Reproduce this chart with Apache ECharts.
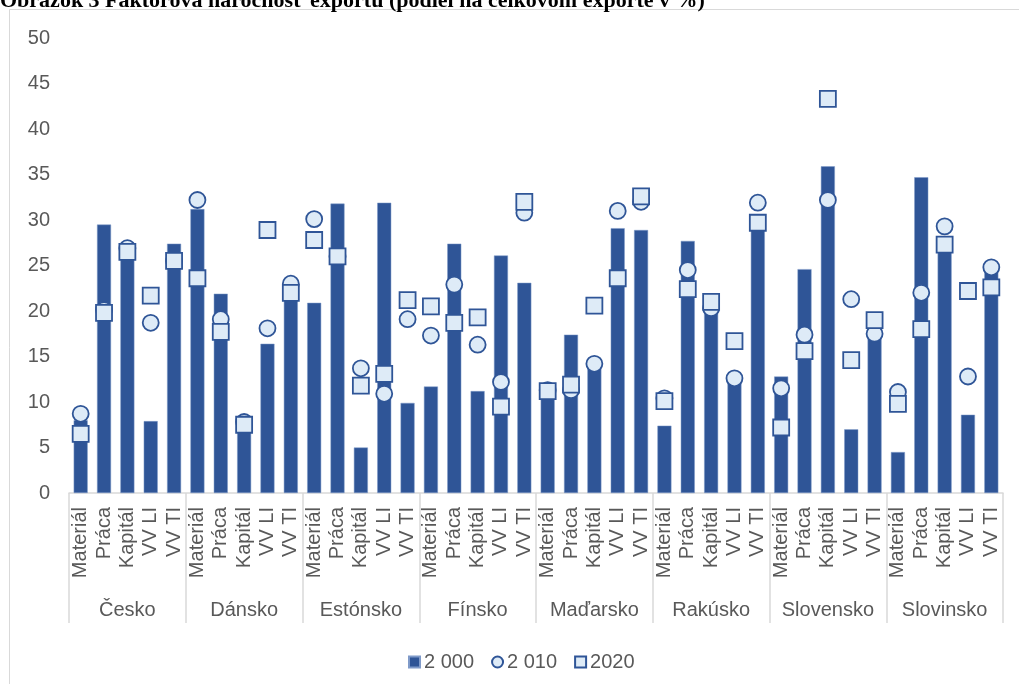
<!DOCTYPE html>
<html>
<head>
<meta charset="utf-8">
<script src="https://cdn.jsdelivr.net/npm/echarts@6/dist/echarts.min.js"></script>
<style>html,body{margin:0;padding:0;background:#fff}#c{width:1019px;height:684px}</style>
</head>
<body>
<div id="c"></div>
<script>
var countries = ['Česko','Dánsko','Estónsko','Fínsko','Maďarsko','Rakúsko','Slovensko','Slovinsko'];
var factors = ['Materiál','Práca','Kapitál','VV LI','VV TI'];
var yTicks = [0,5,10,15,20,25,30,35,40,45,50];
var v2000 = [
  8.0, 29.5, 26.8, 7.9, 27.4,
  31.2, 21.9, 7.6, 16.4, 21.5,
  20.9, 31.8, 5.0, 31.9, 9.9,
  11.7, 27.4, 11.2, 26.1, 23.1,
  10.9, 17.4, 13.9, 29.1, 28.9,
  7.4, 27.7, 19.8, 12.1, 30.0,
  12.8, 24.6, 35.9, 7.0, 17.2,
  4.5, 34.7, 26.8, 8.6, 24.5];
var v2010 = [
  8.7, 20.1, 26.9, 18.7, 25.5,
  32.2, 19.1, 7.8, 18.1, 23.0,
  30.1, 26.0, 13.7, 10.9, 19.1,
  17.3, 22.9, 16.3, 12.2, 30.8,
  11.3, 11.3, 14.2, 31.0, 32.0,
  10.4, 24.5, 20.3, 12.6, 31.9,
  11.5, 17.4, 32.2, 21.3, 17.5,
  11.1, 22.0, 29.3, 12.8, 24.8];
var v2020 = [
  6.5, 19.8, 26.5, 21.7, 25.5,
  23.6, 17.7, 7.5, 28.9, 22.0,
  27.8, 26.0, 11.8, 13.1, 21.2,
  20.5, 18.7, 19.3, 9.5, 32.0,
  11.2, 11.9, 20.6, 23.6, 32.6,
  10.1, 22.4, 21.0, 16.7, 29.7,
  7.2, 15.6, 43.3, 14.6, 19.0,
  9.8, 18.0, 27.3, 22.2, 22.6];
var seriesNames = ['2 000','2 010','2020'];
var titleText = 'Obrázok 3 Faktorová náročnosť exportu (podiel na celkovom exporte v %)';

var categories = [];
countries.forEach(function(c){ factors.forEach(function(f){ categories.push(f); }); });

var dark = '#2F5597', light = '#DEEBF7', txt = '#595959', gridc = '#D9D9D9';
var font = 'Liberation Sans';

var chart = echarts.init(document.getElementById('c'));
chart.setOption({
  animation: false,
  graphic: [
    { type: 'rect', shape: { x: 9.5, y: 9.5, width: 1030, height: 700 }, style: { fill: 'none', stroke: gridc, lineWidth: 1 }, z: -10 },
    { type: 'text', x: 0, y: 12.5, style: { text: titleText, font: 'bold 22px "Liberation Serif"', fill: '#000', verticalAlign: 'bottom' }, z: 10 }
  ],
  grid: { left: 69, right: 16, top: 38, bottom: 191 },
  legend: {
    data: [
      { name: seriesNames[0], icon: 'rect' },
      { name: seriesNames[1], icon: 'circle' },
      { name: seriesNames[2], icon: 'rect' }
    ],
    left: 403, top: 647, itemWidth: 11, itemHeight: 11, itemGap: 17,
    textStyle: { color: txt, fontSize: 20, fontFamily: font, padding: [0, 0, 0, -1] }
  },
  xAxis: [
    {
      type: 'category', data: categories, position: 'bottom',
      axisLine: { show: true, lineStyle: { color: gridc, width: 1.5 } },
      axisTick: { show: false },
      axisLabel: { interval: 0, rotate: 90, margin: 14, color: txt, fontSize: 20, fontFamily: font }
    },
    {
      type: 'category', data: countries, position: 'bottom',
      axisLine: { show: false },
      axisTick: { show: true, length: 130, lineStyle: { color: gridc, width: 1.5 } },
      axisLabel: { interval: 0, margin: 107, color: txt, fontSize: 20, fontFamily: font }
    }
  ],
  yAxis: {
    type: 'value', min: yTicks[0], max: yTicks[yTicks.length - 1], interval: yTicks[1] - yTicks[0],
    axisLine: { show: false }, axisTick: { show: false }, splitLine: { show: false },
    axisLabel: { color: txt, fontSize: 20, fontFamily: font, margin: 19 }
  },
  series: [
    { name: seriesNames[0], type: 'bar', data: v2000, barWidth: 14, xAxisIndex: 0,
      itemStyle: { color: dark, borderColor: '#7F9AC9', borderWidth: 0.5 }, z: 2 },
    { name: seriesNames[1], type: 'scatter', data: v2010, xAxisIndex: 0, symbol: 'circle', symbolSize: 16,
      itemStyle: { color: light, borderColor: dark, borderWidth: 1.8, opacity: 1 }, z: 3 },
    { name: seriesNames[2], type: 'scatter', data: v2020, xAxisIndex: 0, symbol: 'rect', symbolSize: 16,
      itemStyle: { color: light, borderColor: dark, borderWidth: 1.8, opacity: 1 }, z: 4 }
  ]
});
</script>
</body>
</html>
